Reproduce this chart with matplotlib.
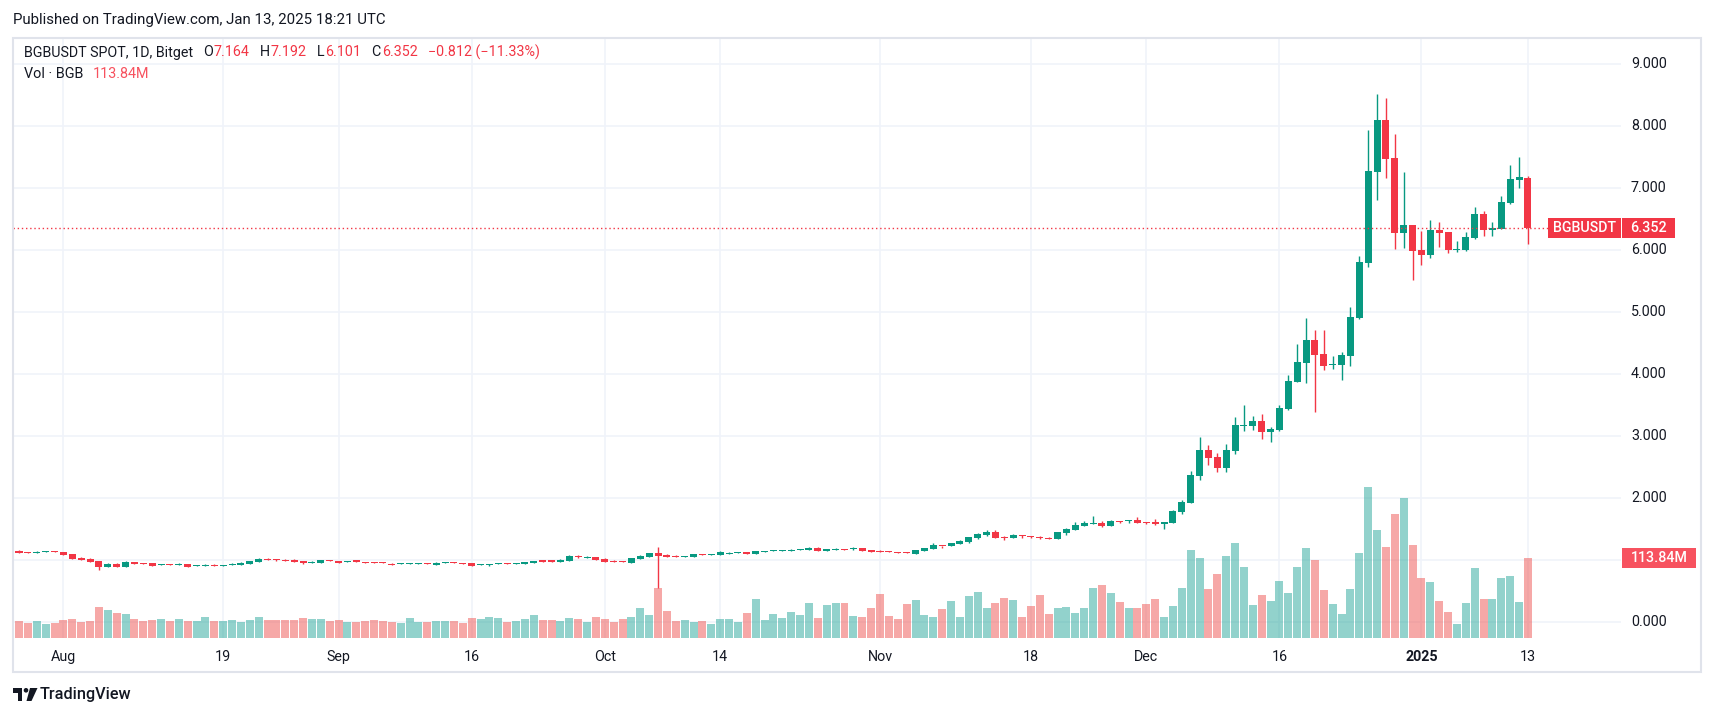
import numpy as np
import matplotlib
matplotlib.use("Agg")
import matplotlib.pyplot as plt
from matplotlib.patches import Rectangle, Polygon, Circle

plt.rcParams['font.family'] = ['Roboto', 'DejaVu Sans']

W, H = 1714, 717

# daily candles BGBUSDT (Bitget), 2024-07-27 .. 2025-01-13
first_day = np.datetime64('2024-07-27')

opens = [1.15, 1.13, 1.12, 1.135, 1.14, 1.13, 1.095, 1.03, 1.015, 0.985,
         0.89, 0.935, 0.89, 0.967, 0.95, 0.95, 0.925, 0.935, 0.925, 0.935,
         0.91, 0.91, 0.92, 0.91, 0.925, 0.925, 0.94, 0.967, 1.02, 1.015,
         1.005, 1.005, 0.99, 0.957, 0.957, 1.0, 0.985, 0.973, 0.985, 0.967,
         0.967, 0.957, 0.94, 0.94, 0.94, 0.94, 0.95, 0.92, 0.957, 0.967,
         0.95, 0.95, 0.925, 0.925, 0.94, 0.95, 0.94, 0.94, 0.957, 0.985,
         0.985, 0.967, 0.985, 1.065, 1.03, 1.048, 1.016, 0.989, 0.984, 0.957,
         1.016, 1.048, 1.113, 1.08, 1.065, 1.048, 1.048, 1.097, 1.08, 1.08,
         1.1, 1.118, 1.134, 1.1, 1.134, 1.15, 1.15, 1.15, 1.167, 1.167,
         1.194, 1.15, 1.167, 1.177, 1.183, 1.194, 1.161, 1.15, 1.145, 1.129,
         1.125, 1.102, 1.15, 1.183, 1.231, 1.231, 1.263, 1.29, 1.36, 1.409,
         1.452, 1.371, 1.36, 1.403, 1.392, 1.376, 1.36, 1.344, 1.441, 1.484,
         1.548, 1.586, 1.597, 1.548, 1.629, 1.629, 1.645, 1.618, 1.613, 1.586,
         1.602, 1.78, 1.925, 2.36, 2.774, 2.661, 2.489, 2.763, 3.167, 3.167,
         3.242, 3.07, 3.102, 3.435, 3.876, 4.183, 4.548, 4.323, 4.145, 4.145,
         4.296, 4.903, 5.796, 7.263, 8.097, 7.484, 6.28, 6.403, 6.0, 5.925,
         6.323, 6.29, 6.005, 6.005, 6.199, 6.581, 6.328, 6.344, 6.758, 7.134,
         7.164]
highs = [1.165, 1.13, 1.14, 1.145, 1.14, 1.13, 1.095, 1.05, 1.03, 0.985,
         0.955, 0.95, 0.985, 0.967, 0.95, 0.95, 0.935, 0.935, 0.95, 0.935,
         0.92, 0.935, 0.935, 0.92, 0.95, 0.973, 0.985, 1.03, 1.03, 1.015,
         1.015, 1.015, 0.99, 0.985, 1.0, 1.0, 0.985, 0.985, 0.985, 0.967,
         0.967, 0.967, 0.957, 0.95, 0.95, 0.95, 0.95, 0.967, 0.967, 0.967,
         0.95, 0.95, 0.935, 0.935, 0.95, 0.95, 0.95, 0.967, 0.985, 0.985,
         1.0, 1.015, 1.08, 1.08, 1.065, 1.048, 1.032, 1.0, 0.984, 1.032,
         1.08, 1.113, 1.215, 1.097, 1.08, 1.065, 1.097, 1.097, 1.097, 1.14,
         1.134, 1.13, 1.134, 1.145, 1.145, 1.161, 1.161, 1.177, 1.177, 1.21,
         1.21, 1.177, 1.194, 1.177, 1.21, 1.194, 1.161, 1.161, 1.145, 1.129,
         1.125, 1.161, 1.2, 1.274, 1.231, 1.274, 1.323, 1.371, 1.435, 1.484,
         1.484, 1.387, 1.419, 1.403, 1.392, 1.387, 1.371, 1.452, 1.516, 1.613,
         1.629, 1.71, 1.629, 1.645, 1.629, 1.645, 1.694, 1.618, 1.656, 1.618,
         1.806, 1.968, 2.435, 2.984, 2.855, 2.726, 2.871, 3.306, 3.5, 3.323,
         3.355, 3.145, 3.5, 3.984, 4.484, 4.903, 4.715, 4.71, 4.29, 4.355,
         5.081, 5.903, 7.935, 8.516, 8.452, 7.871, 7.258, 6.403, 6.306, 6.484,
         6.452, 6.29, 6.145, 6.29, 6.694, 6.629, 6.452, 6.871, 7.371, 7.5,
         7.192]
lows = [1.115, 1.115, 1.115, 1.13, 1.13, 1.085, 1.02, 1.0, 0.973, 0.845,
        0.89, 0.89, 0.89, 0.93, 0.94, 0.91, 0.925, 0.925, 0.925, 0.89,
        0.91, 0.91, 0.91, 0.91, 0.925, 0.925, 0.94, 0.967, 1.005, 0.99,
        0.99, 0.973, 0.94, 0.957, 0.957, 0.99, 0.957, 0.973, 0.96, 0.957,
        0.957, 0.946, 0.925, 0.94, 0.94, 0.94, 0.94, 0.92, 0.957, 0.957,
        0.94, 0.91, 0.925, 0.91, 0.94, 0.94, 0.94, 0.94, 0.957, 0.975,
        0.975, 0.967, 0.985, 1.03, 1.03, 1.0, 0.973, 0.973, 0.973, 0.957,
        1.016, 1.048, 0.55, 1.048, 1.048, 1.048, 1.048, 1.08, 1.08, 1.08,
        1.1, 1.118, 1.1, 1.1, 1.134, 1.15, 1.15, 1.15, 1.167, 1.167,
        1.15, 1.15, 1.167, 1.167, 1.167, 1.15, 1.134, 1.134, 1.134, 1.118,
        1.118, 1.102, 1.15, 1.183, 1.199, 1.231, 1.263, 1.28, 1.344, 1.392,
        1.36, 1.328, 1.36, 1.36, 1.355, 1.344, 1.344, 1.344, 1.409, 1.484,
        1.548, 1.586, 1.532, 1.548, 1.597, 1.597, 1.597, 1.58, 1.565, 1.505,
        1.602, 1.747, 1.925, 2.296, 2.538, 2.425, 2.425, 2.715, 3.086, 3.1,
        2.957, 2.909, 3.086, 3.419, 3.87, 3.85, 3.392, 4.07, 4.086, 3.9,
        4.134, 4.882, 5.731, 6.812, 7.167, 6.022, 6.027, 5.522, 5.763, 5.876,
        6.054, 5.957, 5.973, 5.989, 6.183, 6.231, 6.231, 6.34, 6.747, 7.005,
        6.101]
closes = [1.12, 1.12, 1.13, 1.14, 1.135, 1.085, 1.02, 1.0, 0.973, 0.89,
          0.935, 0.89, 0.967, 0.94, 0.94, 0.91, 0.935, 0.925, 0.94, 0.89,
          0.92, 0.92, 0.91, 0.92, 0.94, 0.957, 0.985, 1.015, 1.005, 1.0,
          0.99, 0.973, 0.957, 0.967, 1.0, 0.99, 0.957, 0.985, 0.975, 0.957,
          0.957, 0.946, 0.925, 0.95, 0.95, 0.95, 0.94, 0.957, 0.967, 0.957,
          0.94, 0.91, 0.935, 0.935, 0.95, 0.94, 0.95, 0.967, 0.985, 0.975,
          0.975, 1.0, 1.065, 1.048, 1.048, 1.0, 0.973, 0.973, 0.973, 1.032,
          1.065, 1.113, 1.065, 1.048, 1.048, 1.065, 1.097, 1.08, 1.097, 1.124,
          1.118, 1.13, 1.1, 1.145, 1.145, 1.161, 1.161, 1.161, 1.177, 1.194,
          1.15, 1.177, 1.177, 1.167, 1.199, 1.15, 1.134, 1.134, 1.134, 1.118,
          1.118, 1.161, 1.194, 1.242, 1.22, 1.274, 1.306, 1.371, 1.419, 1.452,
          1.36, 1.36, 1.403, 1.387, 1.376, 1.36, 1.344, 1.452, 1.5, 1.565,
          1.597, 1.597, 1.548, 1.629, 1.613, 1.645, 1.597, 1.597, 1.586, 1.613,
          1.79, 1.935, 2.371, 2.774, 2.65, 2.489, 2.774, 3.177, 3.177, 3.242,
          3.07, 3.113, 3.452, 3.887, 4.194, 4.548, 4.312, 4.134, 4.161, 4.306,
          4.919, 5.806, 7.274, 8.097, 7.473, 6.28, 6.403, 5.989, 5.925, 6.323,
          6.28, 6.005, 6.016, 6.21, 6.581, 6.328, 6.355, 6.774, 7.145, 7.177,
          6.352]
# volume in millions of BGB
volumes = [23.8, 20.9, 23.8, 19.5, 20.9, 25.2, 26.7, 22.4, 23.8, 43.8,
           39.5, 35.2, 33.8, 26.7, 23.8, 25.2, 26.7, 23.8, 26.7, 23.8,
           23.8, 29.5, 23.8, 23.8, 25.2, 22.4, 25.2, 29.5, 25.2, 25.2,
           25.2, 25.2, 28.1, 26.7, 26.7, 23.8, 25.2, 22.4, 22.4, 23.8,
           25.2, 23.8, 22.4, 20.9, 28.1, 22.4, 22.4, 23.8, 23.8, 23.8,
           20.9, 28.1, 26.7, 29.5, 28.1, 22.4, 23.8, 26.7, 32.4, 25.2,
           25.2, 23.8, 28.1, 26.7, 22.4, 29.5, 26.7, 22.4, 26.7, 30.0,
           42.8, 32.4, 70.9, 38.1, 23.8, 25.2, 22.4, 23.8, 19.5, 26.7,
           26.7, 22.4, 35.2, 55.2, 25.2, 33.8, 28.1, 36.7, 32.4, 49.5,
           28.1, 46.6, 49.5, 49.5, 30.9, 29.5, 42.4, 62.4, 30.9, 26.7,
           48.1, 53.8, 32.4, 29.5, 40.9, 52.4, 29.5, 59.5, 65.2, 42.4,
           49.5, 56.6, 53.8, 29.5, 45.2, 60.9, 33.8, 42.4, 43.8, 35.2,
           42.4, 70.9, 75.2, 63.8, 50.9, 42.4, 42.4, 48.1, 55.2, 29.5,
           45.2, 70.9, 125.2, 113.8, 69.5, 90.9, 116.6, 135.2, 100.9, 46.6,
           60.9, 52.4, 80.9, 63.8, 100.9, 128.0, 110.9, 68.1, 48.1, 33.8,
           69.5, 120.9, 215.2, 153.7, 129.5, 176.6, 199.4, 132.3, 85.2, 79.5,
           52.4, 36.7, 19.5, 49.5, 99.5, 55.2, 55.2, 85.2, 88.1, 50.9,
           113.84]

tick_dates = ['2024-08-01', '2024-08-19', '2024-09-01', '2024-09-16',
              '2024-10-01', '2024-10-14', '2024-11-01', '2024-11-18',
              '2024-12-01', '2024-12-16', '2025-01-01', '2025-01-13']
tick_labels = ['Aug', '19', 'Sep', '16', 'Oct', '14', 'Nov', '18', 'Dec',
               '16', '2025', '13']
price_ticks = [0, 2, 3, 4, 5, 6, 7, 8, 9]   # 1.000 is hidden under the volume tag

UP, DOWN = '#089981', '#F23645'
VUP, VDOWN = '#26a69a', '#ef5350'
TXT = '#131722'
GRID = '#f0f3fa'

o = np.array(opens)
h = np.array(highs)
l = np.array(lows)
c = np.array(closes)
v = np.array(volumes)
x = np.arange(len(c))
up = c >= o

# pane geometry in pixels
PL, PT, PR, PB = 13, 38, 1621, 638
XMIN, XMAX = -0.676, 180.48
YMIN, YMAX = -0.258, 9.419
VMAX = 857.0


def px_box(x0, y0, x1, y1):
    return [x0 / W, 1 - y1 / H, (x1 - x0) / W, (y1 - y0) / H]


def xpix(d):
    return PL + (d - XMIN) / (XMAX - XMIN) * (PR - PL)


def ypix(p):
    return PB - (p - YMIN) / (YMAX - YMIN) * (PB - PT)


fig = plt.figure(figsize=(W / 100, H / 100), dpi=100)
fig.patch.set_facecolor('white')

tick_x = [(np.datetime64(d) - first_day).astype(int) for d in tick_dates]

# grid (bottom layer)
gax = fig.add_axes(px_box(PL, PT, PR, PB))
gax.set_xlim(XMIN, XMAX)
gax.set_ylim(YMIN, YMAX)
for p in range(0, 10):
    gax.axhline(p, color=GRID, lw=1.2)
for tx in tick_x:
    gax.axvline(tx, color=GRID, lw=1.2)
gax.axis('off')

# volume overlay
vax = fig.add_axes(px_box(PL, PT, PR, PB))
vax.patch.set_alpha(0)
vax.set_xlim(XMIN, XMAX)
vax.set_ylim(0, VMAX)
vax.bar(x, v, width=0.9, color=np.where(up, VUP, VDOWN), alpha=0.5,
        linewidth=0)
vax.axis('off')

# candles
ax = fig.add_axes(px_box(PL, PT, PR, PB))
ax.patch.set_alpha(0)
ax.set_xlim(XMIN, XMAX)
ax.set_ylim(YMIN, YMAX)
cols = np.where(up, UP, DOWN)
ax.vlines(x, l, h, colors=cols, lw=1.0)
body_lo = np.minimum(o, c)
body_h = np.maximum(np.abs(c - o), 0.017)
ax.bar(x, body_h, bottom=body_lo, width=0.79, color=cols, linewidth=0)
# last price line
ax.hlines(c[-1], XMIN, XMIN + (1548 - PL) / (PR - PL) * (XMAX - XMIN),
          colors=DOWN, lw=1.0, linestyles=(0, (1, 2)))
ax.axis('off')

# overlay in pixel coordinates for labels, tags and frame
ov = fig.add_axes([0, 0, 1, 1])
ov.set_xlim(0, W)
ov.set_ylim(H, 0)
ov.axis('off')
ov.patch.set_alpha(0)

ov.add_patch(Rectangle((PL, PT), 1701 - PL, 672 - PT, fill=False,
                       edgecolor='#e0e3eb', lw=1.5))

for p in price_ticks:
    ov.text(1631, ypix(p), f"{p:.3f}", color=TXT, fontsize=10.3,
            va='center', ha='left')

for tx, lab in zip(tick_x, tick_labels):
    ov.text(xpix(tx), 657, lab, color=TXT, fontsize=10.3, ha='center',
            va='center', fontweight='bold' if lab == '2025' else 'normal')

# symbol / last price tags
yl = ypix(c[-1])
ov.add_patch(Rectangle((1548, yl - 10), 73, 20, color=DOWN, lw=0))
ov.add_patch(Rectangle((1622, yl - 10), 53, 20, color=DOWN, lw=0))
ov.text(1584.5, yl, 'BGBUSDT', color='white', fontsize=10.3, ha='center',
        va='center', fontweight='medium')
ov.text(1648.5, yl, f"{c[-1]:.3f}", color='white', fontsize=10.3,
        ha='center', va='center', fontweight='medium')

# volume tag
yv = PB - v[-1] / VMAX * (PB - PT)
ov.add_patch(Rectangle((1622, yv - 10), 74, 20, color='#F7525F', lw=0))
ov.text(1659, yv, '113.84M', color='white', fontsize=10.3, ha='center',
        va='center', fontweight='medium')

renderer = fig.canvas.get_renderer()


def chain(parts, x0, y, size):
    xx = x0
    for txt, col, gap in parts:
        t = ov.text(xx, y, txt, color=col, fontsize=size, va='center',
                    ha='left')
        bb = t.get_window_extent(renderer)
        xx += bb.width + gap


ov.text(13, 20, 'Published on TradingView.com, Jan 13, 2025 18:21 UTC',
        color=TXT, fontsize=10.8, va='center', ha='left')

red = DOWN
chain([('BGBUSDT SPOT, 1D, Bitget', TXT, 10),
       ('O', TXT, 1), (f"{o[-1]:.3f}", red, 10),
       ('H', TXT, 1), (f"{h[-1]:.3f}", red, 10),
       ('L', TXT, 1), (f"{l[-1]:.3f}", red, 10),
       ('C', TXT, 1), (f"{c[-1]:.3f}", red, 10),
       ('\u22120.812 (\u221211.33%)', red, 0)], 24, 52.5, 10.3)
chain([('Vol \u00b7 BGB', TXT, 9), ('113.84M', '#F7525F', 0)], 24, 74.5, 10.4)

# TradingView logo
ov.add_patch(Polygon([(13, 688), (22.5, 688), (22.5, 701), (18, 701),
                      (18, 692.5), (13, 692.5)], closed=True, color=TXT, lw=0))
ov.add_patch(Circle((26, 690.3), 2.3, color=TXT, lw=0))
ov.add_patch(Polygon([(30, 688), (37.5, 688), (31.5, 701), (26.5, 701)],
                     closed=True, color=TXT, lw=0))
ov.text(40, 695, 'TradingView', color=TXT, fontsize=11.7, va='center',
        ha='left', fontweight='medium')

fig.savefig('out.png', dpi=100)
